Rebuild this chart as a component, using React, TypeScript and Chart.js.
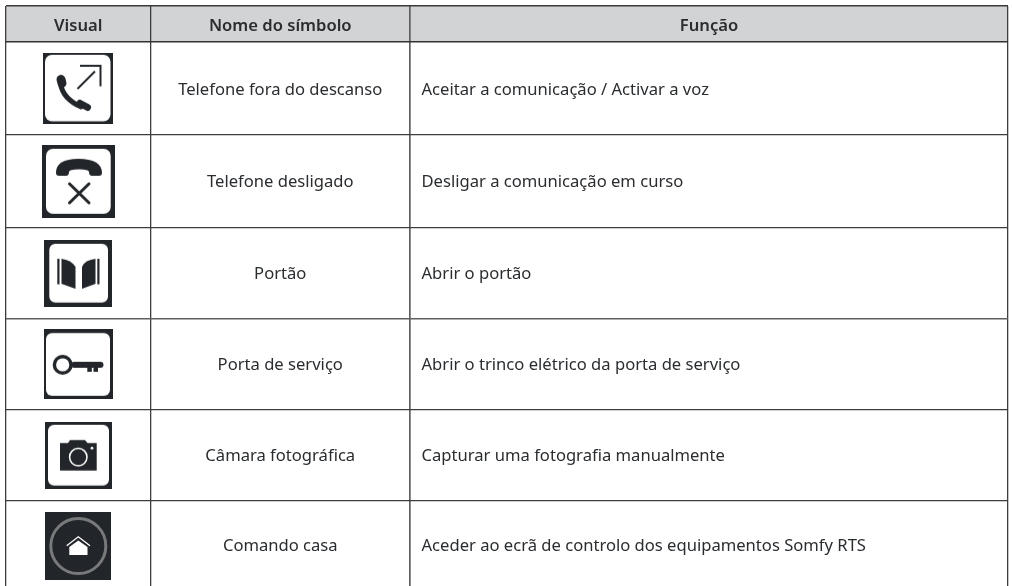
import React, { useEffect, useRef } from "react";
import { Chart, registerables } from "chart.js";

Chart.register(...registerables);

const headers = ["Visual", "Nome do símbolo", "Função"];
const symbolNames = [
  "Telefone fora do descanso",
  "Telefone desligado",
  "Portão",
  "Porta de serviço",
  "Câmara fotográfica",
  "Comando casa",
];
const functions = [
  "Aceitar a comunicação / Activar a voz",
  "Desligar a comunicação em curso",
  "Abrir o portão",
  "Abrir o trinco elétrico da porta de serviço",
  "Capturar uma fotografia manualmente",
  "Aceder ao ecrã de controlo dos equipamentos Somfy RTS",
];
const columnEdges = [6, 150.5, 410, 1008];
const rowEdges = [6, 42, 134.5, 228, 318.7, 409.7, 500.7];
const iconRowCentres = [88.3, 181.3, 273.3, 363.8, 455.3, 546];
const textRowCentres = [90.3, 182, 274.3, 365.3, 456.3, 546.5];
const iconColumnCentres = [78, 78.5, 78, 78.5, 78.5, 78];
const columnLineColors = ["#3d3d3d", "#3d3d3d", "#5f5f5f", "#3d3d3d"];
const columnLineWidths = [1.3, 1.3, 1.7, 1.3];
const rowLineColors = ["#3a3a3a", "#333333", "#3d3d3d", "#3d3d3d", "#5f5f5f", "#3d3d3d", "#3d3d3d"];
const rowLineWidths = [1.4, 1.6, 1.2, 1.2, 1.6, 1.2, 1.2];

const DARK = "#22262a";
const TEXT = "#2a2d30";
const HEADER_BG = "#d1d3d4";
const FONT = "'Noto Sans', sans-serif";

function makeIcon(w: number, h: number, inner: [number, number, number, number], r: number, draw: (c: CanvasRenderingContext2D) => void) {
  const cv = document.createElement("canvas");
  cv.width = w;
  cv.height = h;
  const c = cv.getContext("2d")!;
  c.fillStyle = DARK;
  c.fillRect(0, 0, w, h);
  c.fillStyle = "#fff";
  c.beginPath();
  c.roundRect(inner[0], inner[1], inner[2], inner[3], r);
  c.fill();
  c.fillStyle = DARK;
  c.strokeStyle = DARK;
  c.lineCap = "butt";
  draw(c);
  return cv;
}

function iconPhoneUp() {
  return makeIcon(70, 71, [2, 2, 65.5, 66.5], 7, (c) => {
    c.lineWidth = 5;
    c.lineCap = "round";
    c.beginPath();
    c.moveTo(17.5, 31);
    c.quadraticCurveTo(20, 46, 38, 54);
    c.stroke();
    c.lineWidth = 9;
    c.beginPath();
    c.moveTo(18, 26.5);
    c.lineTo(19, 30.5);
    c.stroke();
    c.lineWidth = 7;
    c.beginPath();
    c.moveTo(37, 50.5);
    c.lineTo(44.5, 54.5);
    c.stroke();
    c.lineCap = "butt";
    c.lineWidth = 2;
    c.beginPath();
    c.moveTo(34.5, 36);
    c.lineTo(52, 18.5);
    c.stroke();
    c.beginPath();
    c.moveTo(37, 13);
    c.lineTo(57.5, 13);
    c.lineTo(57.5, 33.5);
    c.stroke();
  });
}

function iconPhoneDown() {
  return makeIcon(73, 73, [4, 4, 64.7, 65], 7, (c) => {
    c.beginPath();
    c.moveTo(14, 28);
    c.quadraticCurveTo(14, 14, 36.5, 14);
    c.quadraticCurveTo(59.5, 14, 60, 28);
    c.quadraticCurveTo(60, 31, 57, 31);
    c.lineTo(50, 31);
    c.quadraticCurveTo(47, 31, 47, 27);
    c.quadraticCurveTo(47, 24.5, 37, 24.5);
    c.quadraticCurveTo(27, 24.5, 27, 27);
    c.quadraticCurveTo(27, 31, 24, 31);
    c.lineTo(17, 31);
    c.quadraticCurveTo(14, 31, 14, 28);
    c.fill();
    c.lineWidth = 3;
    c.lineCap = "round";
    c.beginPath();
    c.moveTo(27.5, 39);
    c.lineTo(47, 58);
    c.moveTo(47, 39);
    c.lineTo(27.5, 58);
    c.stroke();
  });
}

function iconGate() {
  return makeIcon(68, 67, [5.3, 4, 58.7, 58.7], 6, (c) => {
    c.fillRect(13.3, 19, 2.2, 25.5);
    c.fillRect(53.3, 19, 2.2, 25.5);
    c.beginPath();
    c.moveTo(17.5, 19);
    c.quadraticCurveTo(27, 20, 31.5, 27);
    c.lineTo(31.5, 49);
    c.lineTo(17.5, 44);
    c.closePath();
    c.fill();
    c.beginPath();
    c.moveTo(51.5, 19);
    c.quadraticCurveTo(41, 20, 38, 27);
    c.lineTo(38, 49);
    c.lineTo(51.5, 44);
    c.closePath();
    c.fill();
  });
}

function iconKey() {
  return makeIcon(69, 70, [2, 4.3, 64, 62.7], 6, (c) => {
    c.lineWidth = 3.4;
    c.beginPath();
    c.arc(18.7, 36, 8.3, 0, Math.PI * 2);
    c.stroke();
    c.beginPath();
    c.roundRect(27, 33, 32.5, 6, 3);
    c.fill();
    c.fillRect(43.3, 38, 4.5, 5);
    c.fillRect(49.5, 38, 4.5, 5);
  });
}

function iconCamera() {
  return makeIcon(67, 67, [3, 3, 61, 60.7], 6, (c) => {
    c.beginPath();
    c.moveTo(15, 21.3);
    c.lineTo(23, 21.3);
    c.lineTo(25, 18.3);
    c.lineTo(40, 18.3);
    c.lineTo(42.5, 21.3);
    c.lineTo(51.7, 21.3);
    c.lineTo(51.7, 48.7);
    c.lineTo(15, 48.7);
    c.closePath();
    c.fill();
    c.strokeStyle = "#fff";
    c.lineWidth = 1.5;
    c.beginPath();
    c.arc(33.3, 35.3, 8.7, 0, Math.PI * 2);
    c.stroke();
    c.fillStyle = "#fff";
    c.beginPath();
    c.arc(47, 26.3, 1.4, 0, Math.PI * 2);
    c.fill();
  });
}

function iconHome() {
  const cv = document.createElement("canvas");
  cv.width = 66;
  cv.height = 68;
  const c = cv.getContext("2d")!;
  c.fillStyle = DARK;
  c.fillRect(0, 0, 66, 68);
  c.strokeStyle = "#77797b";
  c.lineWidth = 3;
  c.beginPath();
  c.arc(33.3, 34, 27.5, 0, Math.PI * 2);
  c.stroke();
  c.fillStyle = "#fff";
  c.beginPath();
  c.moveTo(33.3, 28.5);
  c.lineTo(42.5, 35);
  c.lineTo(42.5, 43);
  c.lineTo(24.3, 43);
  c.lineTo(24.3, 35);
  c.closePath();
  c.fill();
  c.strokeStyle = "#fff";
  c.lineWidth = 1.3;
  c.beginPath();
  c.moveTo(21.7, 33.8);
  c.lineTo(33.3, 24.8);
  c.lineTo(45, 33.8);
  c.stroke();
  return cv;
}

export default function App() {
  const ref = useRef<HTMLCanvasElement | null>(null);

  useEffect(() => {
    document.body.style.margin = "0";
    const icons = [iconPhoneUp(), iconPhoneDown(), iconGate(), iconKey(), iconCamera(), iconHome()];
    const tablePlugin = {
      id: "tableCells",
      beforeDatasetsDraw(chart: any) {
        const { ctx, scales } = chart;
        const x = scales.x;
        const y = scales.y;
        ctx.save();
        ctx.globalCompositeOperation = "destination-over";
        ctx.fillStyle = HEADER_BG;
        ctx.fillRect(
          x.getPixelForValue(columnEdges[0]),
          y.getPixelForValue(rowEdges[0]),
          x.getPixelForValue(columnEdges[3]) - x.getPixelForValue(columnEdges[0]),
          y.getPixelForValue(rowEdges[1]) - y.getPixelForValue(rowEdges[0])
        );
        ctx.restore();
      },
      afterDatasetsDraw(chart: any) {
        const { ctx, scales } = chart;
        const x = scales.x;
        const y = scales.y;
        ctx.save();
        ctx.fillStyle = TEXT;
        ctx.textBaseline = "middle";
        ctx.textAlign = "center";
        ctx.font = `600 16.6px ${FONT}`;
        headers.forEach((h, i) => {
          const cx = (columnEdges[i] + columnEdges[i + 1]) / 2;
          ctx.fillText(h, x.getPixelForValue(cx), y.getPixelForValue(26));
        });
        ctx.font = `16.6px ${FONT}`;
        symbolNames.forEach((s, i) => {
          ctx.textAlign = "center";
          ctx.fillText(s, x.getPixelForValue((columnEdges[1] + columnEdges[2]) / 2), y.getPixelForValue(textRowCentres[i]));
        });
        functions.forEach((s, i) => {
          ctx.textAlign = "left";
          ctx.fillText(s, x.getPixelForValue(columnEdges[2] + 11.5), y.getPixelForValue(textRowCentres[i]));
        });
        ctx.restore();
      },
    };

    const chart = new Chart(ref.current!, {
      type: "scatter",
      data: {
        datasets: [
          {
            label: "Visual",
            data: iconRowCentres.map((v, i) => ({ x: iconColumnCentres[i], y: v })),
            pointStyle: icons as any,
            pointRadius: 10,
            showLine: false,
          },
        ],
      },
      options: {
        animation: false,
        responsive: false,
        layout: { padding: { left: 6, top: 6, right: 4, bottom: 0 }, autoPadding: false },
        plugins: { legend: { display: false }, tooltip: { enabled: false }, title: { display: false } },
        scales: {
          x: {
            type: "linear",
            min: 6,
            max: 1008,
            border: { display: false },
            ticks: { display: false },
            grid: { color: columnLineColors, lineWidth: columnLineWidths, drawTicks: false },
            afterBuildTicks: (s: any) => {
              s.ticks = columnEdges.map((value) => ({ value }));
            },
          },
          y: {
            type: "linear",
            min: 6,
            max: 586,
            reverse: true,
            border: { display: false },
            ticks: { display: false },
            grid: { color: rowLineColors, lineWidth: rowLineWidths, drawTicks: false },
            afterBuildTicks: (s: any) => {
              s.ticks = rowEdges.map((value) => ({ value }));
            },
          },
        },
      },
      plugins: [tablePlugin],
    } as any);
    return () => chart.destroy();
  }, []);

  return (
    <div style={{ position: "absolute", left: 0, top: 0, width: 1012, height: 586, background: "#fff" }}>
      <canvas ref={ref} width={1012} height={586} style={{ display: "block" }} />
    </div>
  );
}
